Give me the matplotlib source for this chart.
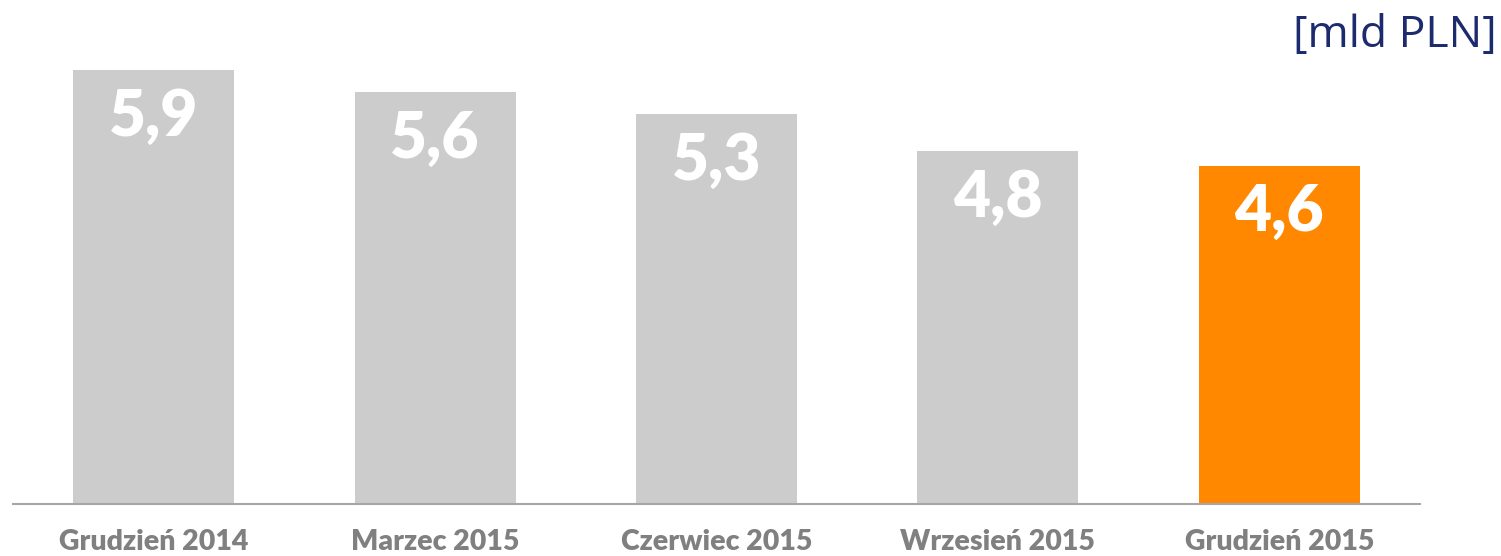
import matplotlib
matplotlib.use("Agg")
import matplotlib.pyplot as plt

categories = ["Grudzień 2014", "Marzec 2015", "Czerwiec 2015", "Wrzesień 2015", "Grudzień 2015"]
values = [5.9, 5.6, 5.3, 4.8, 4.6]
labels = ["5,9", "5,6", "5,3", "4,8", "4,6"]
colors = ["#cccccc", "#cccccc", "#cccccc", "#cccccc", "#ff8800"]
unit = "[mld PLN]"

W, H = 1501, 556
fig = plt.figure(figsize=(W / 100, H / 100), dpi=100)
ax = fig.add_axes([13 / W, 52 / H, 1407 / W, 504 / H])
x = list(range(len(categories)))
ax.bar(x, values, width=0.572, color=colors, zorder=2)
ax.set_xlim(-0.5, len(categories) - 0.5)
ax.set_ylim(0, 504 / 73.56)
for s in ["top", "right", "left"]:
    ax.spines[s].set_visible(False)
ax.spines["bottom"].set_color("#a6a6a6")
ax.spines["bottom"].set_linewidth(1.5)
ax.set_yticks([])
ax.set_xticks(x)
ax.set_xticklabels(categories, fontsize=20.5, fontweight="heavy", color="#808080", family="Lato")
ax.tick_params(axis="x", length=0, pad=18)

for xi, v, lab in zip(x, values, labels):
    ax.annotate(lab, (xi, v), xytext=(0, -47), textcoords="offset pixels",
                ha="center", va="center", color="white", fontsize=46,
                fontweight="heavy", family="Lato")

fig.text(1497 / W, 1 - 36 / H, unit, ha="right", va="center", fontsize=32,
         color="#1c2a6e", family="Open Sans")

fig.savefig("out.png", dpi=100)
